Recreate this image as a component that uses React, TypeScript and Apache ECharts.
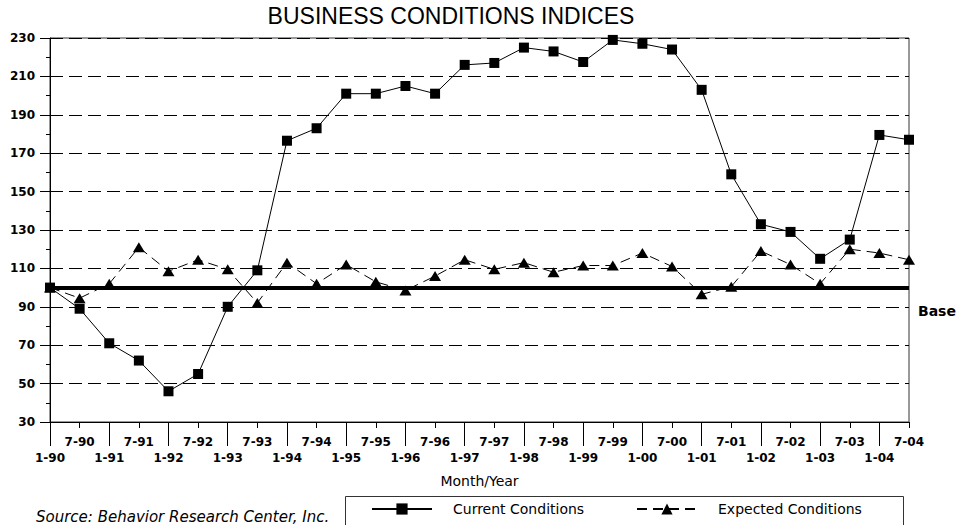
import React, { useEffect, useRef } from "react";
import * as echarts from "echarts";

const TITLE = "BUSINESS CONDITIONS INDICES";
const X_NAME = "Month/Year";
const SOURCE = "Source: Behavior Research Center, Inc.";
const BASE_LABEL = "Base";
const BASE_VALUE = 100;

const CATEGORIES = [
  "1-90", "7-90", "1-91", "7-91", "1-92", "7-92", "1-93", "7-93", "1-94", "7-94",
  "1-95", "7-95", "1-96", "7-96", "1-97", "7-97", "1-98", "7-98", "1-99", "7-99",
  "1-00", "7-00", "1-01", "7-01", "1-02", "7-02", "1-03", "7-03", "1-04", "7-04",
];

const CURRENT = [
  100, 89, 71, 62, 46, 55, 90, 109, 176.5, 183,
  201, 201, 205, 201, 216, 217, 225, 223, 217.5, 229,
  227, 224, 203, 159, 133, 129, 115, 125, 179.5, 177,
];

const EXPECTED = [
  100, 94.5, 102, 121, 108.5, 114.5, 109.5, 92, 113, 102,
  112, 103, 98.5, 106, 114.5, 109.5, 113, 108, 111.5, 111.5,
  118, 111, 96.5, 100.5, 119, 112, 102, 120, 118, 114.5,
];

const Y_MIN = 30;
const Y_MAX = 230;
const Y_STEP = 20;

const SERIES_NAMES = ["Current Conditions", "Expected Conditions"];

const FONT = "DejaVu Sans";

export default function App() {
  const ref = useRef<HTMLDivElement>(null);

  useEffect(() => {
    if (!ref.current) return;
    const chart = echarts.init(ref.current, undefined, { renderer: "svg" });

    const tickLabel = { color: "#000", fontFamily: FONT, fontSize: 12, fontWeight: "bold" as const };

    const legendCommon = {
      orient: "horizontal" as const,
      top: 502,
      padding: 0,
      itemWidth: 60,
      itemHeight: 14,
      textStyle: { color: "#000", fontFamily: FONT, fontSize: 14, padding: [0, 0, 0, 16] },
    };

    const staticGraphics: any[] = [
      {
        id: "legendBox",
        type: "rect",
        left: 343,
        top: 494,
        shape: { width: 558, height: 60 },
        style: { fill: "none", stroke: "#333", lineWidth: 1 },
        silent: true,
        z: 0,
      },
      {
        id: "source",
        type: "text",
        left: 36,
        top: 509,
        style: {
          text: SOURCE,
          fill: "#000",
          fontFamily: FONT,
          fontSize: 15,
          fontStyle: "italic",
        },
      },
    ];

    const option: any = {
      animation: false,
      backgroundColor: "#fff",
      textStyle: { fontFamily: FONT },
      title: {
        text: TITLE,
        left: 451,
        top: 4,
        padding: 0,
        textAlign: "center",
        textStyle: { fontFamily: "Liberation Sans", fontSize: 23, fontWeight: "normal", color: "#000" },
      },
      legend: [
        { ...legendCommon, left: 371, data: [SERIES_NAMES[0]] },
        { ...legendCommon, left: 636, data: [SERIES_NAMES[1]] },
      ],
      grid: {
        left: 50,
        right: 51,
        top: 38,
        bottom: 103,
        show: true,
        borderColor: "#333",
        borderWidth: 1,
        containLabel: false,
      },
      xAxis: [
        {
          type: "category",
          data: CATEGORIES,
          boundaryGap: false,
          position: "bottom",
          axisLine: { show: true, lineStyle: { color: "#000", width: 1 } },
          axisTick: { show: true, length: 6, interval: 0, lineStyle: { color: "#000" } },
          axisLabel: {
            ...tickLabel,
            margin: 14,
            interval: (idx: number) => idx % 2 === 1,
          },
          splitLine: { show: false },
        },
        {
          type: "category",
          data: CATEGORIES,
          boundaryGap: false,
          position: "bottom",
          name: X_NAME,
          nameLocation: "middle",
          nameGap: 52,
          nameTextStyle: { color: "#000", fontFamily: FONT, fontSize: 14 },
          axisLine: { show: false },
          axisTick: {
            show: true,
            length: 24,
            interval: (idx: number) => idx % 2 === 0,
            lineStyle: { color: "#000" },
          },
          axisLabel: {
            ...tickLabel,
            margin: 30,
            interval: (idx: number) => idx % 2 === 0,
          },
          splitLine: { show: false },
        },
      ],
      yAxis: {
        type: "value",
        min: Y_MIN,
        max: Y_MAX,
        interval: Y_STEP,
        axisLine: { show: true, lineStyle: { color: "#000", width: 1 } },
        axisTick: { show: true, length: 10, lineStyle: { color: "#000" } },
        minorTick: { show: true, splitNumber: 2, length: 4, lineStyle: { color: "#000" } },
        axisLabel: { ...tickLabel, margin: 15 },
        splitLine: { show: true, lineStyle: { color: "#000", width: 1, type: [13, 6] } },
      },
      series: [
        {
          name: SERIES_NAMES[1],
          type: "line",
          data: EXPECTED,
          symbol: "triangle",
          symbolSize: [12, 10],
          itemStyle: { color: "#000" },
          lineStyle: { color: "#000", width: 1, type: [10, 6] },
          z: 3,
        },
        {
          name: SERIES_NAMES[0],
          type: "line",
          data: CURRENT,
          symbol: "rect",
          symbolSize: 10,
          itemStyle: { color: "#000" },
          lineStyle: { color: "#000", width: 1, type: "solid" },
          z: 4,
          markLine: {
            silent: true,
            symbol: ["none", "none"],
            lineStyle: { color: "#000", width: 4, type: "solid" },
            label: { show: false },
            data: [{ yAxis: BASE_VALUE }],
          },
        },
      ],
      graphic: staticGraphics,
    };

    chart.setOption(option);

    // Place the "Base" caption next to the end of the base line, from the chart's own scales.
    const end = chart.convertToPixel({ xAxisIndex: 0, yAxisIndex: 0 }, [CATEGORIES.length - 1, BASE_VALUE]) as number[];
    if (end && isFinite(end[0]) && isFinite(end[1])) {
      chart.setOption({
        graphic: [
          ...staticGraphics,
          {
            id: "baseLabel",
            type: "text",
            x: end[0] + 9,
            y: end[1] + 23,
            style: {
              text: BASE_LABEL,
              fill: "#000",
              fontFamily: FONT,
              fontSize: 14,
              fontWeight: "bold",
              align: "left",
              verticalAlign: "middle",
            },
          },
        ],
      });
    }

    return () => chart.dispose();
  }, []);

  return (
    <div
      ref={ref}
      style={{ position: "absolute", left: 0, top: 0, width: 960, height: 525, background: "#fff" }}
    />
  );
}
